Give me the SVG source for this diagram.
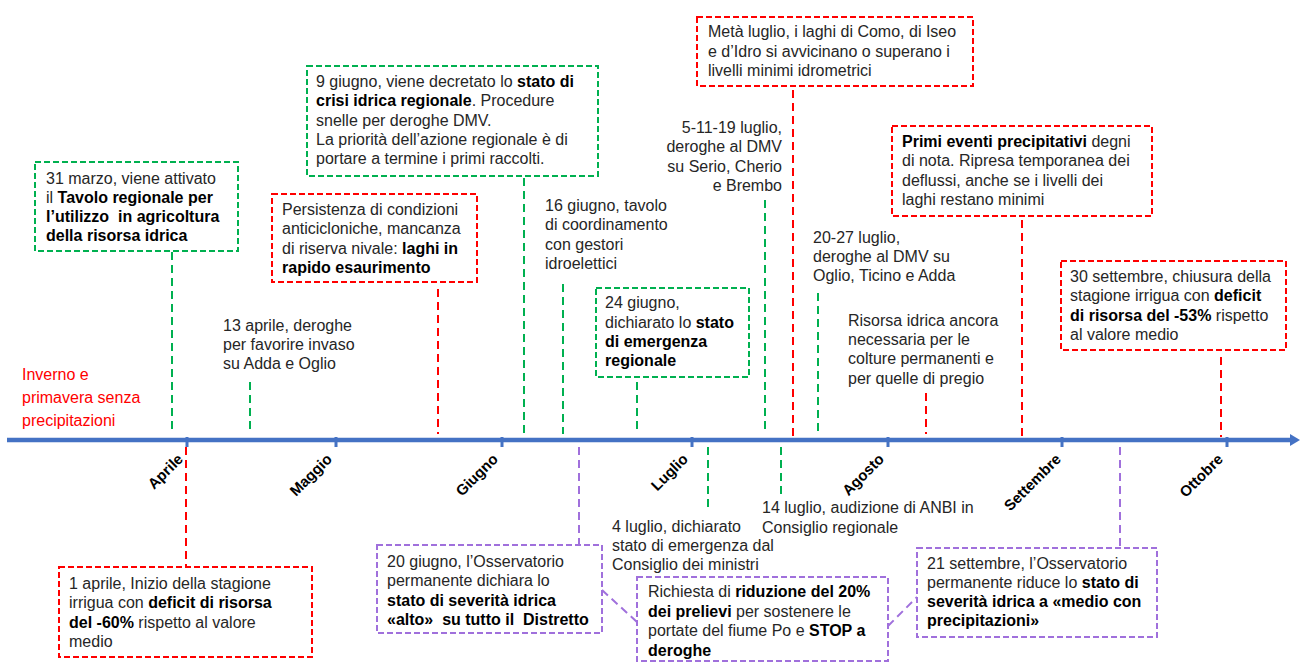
<svg xmlns="http://www.w3.org/2000/svg" width="1300" height="663" viewBox="0 0 1300 663">
<style>
text { font-family: "Liberation Sans", Arial, sans-serif; font-size: 16px; fill: #262626; }
.b { font-weight: bold; fill: #000; }
.red { fill: #FF0000; }
.box { fill: #fff; stroke-width: 2; stroke-dasharray: 6 3; }
.conn { fill: none; stroke-width: 2; stroke-dasharray: 8 5; }
.g { stroke: #00B050; }
.r { stroke: #FF0000; }
.p { stroke: #A070DC; }
.month { font-size: 15px; font-weight: bold; fill: #000; }
.tick { fill: #4472C4; }
</style>
<rect width="1300" height="663" fill="#fff"/>

<g id="axis">
  <line x1="7" y1="440" x2="1292" y2="440" stroke="#4472C4" stroke-width="4.5"/>
  <polygon points="1290,434 1300,440 1290,446" fill="#4472C4"/>
  <rect class="tick" x="185.5" y="437" width="3" height="10"/>
  <rect class="tick" x="334.5" y="437" width="3" height="10"/>
  <rect class="tick" x="500.5" y="437" width="3" height="10"/>
  <rect class="tick" x="690.5" y="437" width="3" height="10"/>
  <rect class="tick" x="886.5" y="437" width="3" height="10"/>
  <rect class="tick" x="1060.5" y="437" width="3" height="10"/>
  <rect class="tick" x="1225.5" y="437" width="3" height="10"/>
  <text class="month" x="184" y="460" text-anchor="end" transform="rotate(-45 184 460)">Aprile</text>
  <text class="month" x="333" y="460" text-anchor="end" transform="rotate(-45 333 460)">Maggio</text>
  <text class="month" x="499" y="460" text-anchor="end" transform="rotate(-45 499 460)">Giugno</text>
  <text class="month" x="689" y="460" text-anchor="end" transform="rotate(-45 689 460)">Luglio</text>
  <text class="month" x="885" y="460" text-anchor="end" transform="rotate(-45 885 460)">Agosto</text>
  <text class="month" x="1062" y="460" text-anchor="end" transform="rotate(-45 1062 460)">Settembre</text>
  <text class="month" x="1224" y="460" text-anchor="end" transform="rotate(-45 1224 460)">Ottobre</text>
</g>

<g id="connectors">
  <line class="conn g" x1="172" y1="252" x2="172" y2="434"/>
  <line class="conn g" x1="250" y1="382" x2="250" y2="434"/>
  <line class="conn r" x1="438" y1="289" x2="438" y2="434"/>
  <line class="conn g" x1="524" y1="178" x2="524" y2="434"/>
  <line class="conn g" x1="563" y1="284" x2="563" y2="434"/>
  <line class="conn g" x1="637" y1="382" x2="637" y2="434"/>
  <line class="conn g" x1="765" y1="200" x2="765" y2="434"/>
  <line class="conn r" x1="793" y1="90" x2="793" y2="437"/>
  <line class="conn g" x1="818" y1="293" x2="818" y2="434"/>
  <line class="conn r" x1="926" y1="393" x2="926" y2="434"/>
  <line class="conn r" x1="1022" y1="220" x2="1022" y2="437"/>
  <line class="conn r" x1="1221" y1="357" x2="1221" y2="437"/>
  <line class="conn r" x1="186" y1="447" x2="186" y2="566"/>
  <line class="conn p" x1="579" y1="447" x2="579" y2="544"/>
  <line class="conn g" x1="708" y1="447" x2="708" y2="508"/>
  <line class="conn g" x1="781" y1="447" x2="781" y2="494"/>
  <line class="conn p" x1="1120" y1="447" x2="1120" y2="547"/>
  <line class="conn p" x1="602" y1="590" x2="637" y2="622"/>
  <line class="conn p" x1="888" y1="626" x2="917" y2="597"/>
</g>

<g id="inverno">
  <text class="red" x="22"><tspan x="22" y="380">Inverno e</tspan><tspan x="22" y="403">primavera senza</tspan><tspan x="22" y="426">precipitazioni</tspan></text>
</g>

<g id="n31marzo">
  <rect class="box g" x="35" y="162" width="203" height="89"/>
  <text><tspan x="46" y="184">31 marzo, viene attivato</tspan><tspan x="46" y="203">il <tspan class="b">Tavolo regionale per</tspan></tspan><tspan class="b" x="46" y="222">l’utilizzo&#160; in agricoltura</tspan><tspan class="b" x="46" y="241">della risorsa idrica</tspan></text>
</g>

<g id="n13aprile">
  <text><tspan x="223" y="331">13 aprile, deroghe</tspan><tspan x="223" y="350">per favorire invaso</tspan><tspan x="223" y="369">su Adda e Oglio</tspan></text>
</g>

<g id="persistenza">
  <rect class="box r" x="272" y="194" width="205" height="88"/>
  <text><tspan x="282" y="215">Persistenza di condizioni</tspan><tspan x="282" y="234">anticicloniche, mancanza</tspan><tspan x="282" y="254">di riserva nivale: <tspan class="b">laghi in</tspan></tspan><tspan class="b" x="282" y="273">rapido esaurimento</tspan></text>
</g>

<g id="n9giugno">
  <rect class="box g" x="307" y="66" width="291" height="110"/>
  <text><tspan x="316" y="87">9 giugno, viene decretato lo <tspan class="b">stato di</tspan></tspan><tspan x="316" y="106"><tspan class="b">crisi idrica regionale</tspan>. Procedure</tspan><tspan x="316" y="126">snelle per deroghe DMV.</tspan><tspan x="316" y="145">La priorità dell’azione regionale è di</tspan><tspan x="316" y="164">portare a termine i primi raccolti.</tspan></text>
</g>

<g id="n16giugno">
  <text><tspan x="545" y="210.5">16 giugno, tavolo</tspan><tspan x="545" y="230">di coordinamento</tspan><tspan x="545" y="249.5">con gestori</tspan><tspan x="545" y="269">idroelettici</tspan></text>
</g>

<g id="n24giugno">
  <rect class="box g" x="596" y="288" width="153" height="89"/>
  <text><tspan x="605" y="308">24 giugno,</tspan><tspan x="605" y="327.5">dichiarato lo <tspan class="b">stato</tspan></tspan><tspan class="b" x="605" y="347">di emergenza</tspan><tspan class="b" x="605" y="366">regionale</tspan></text>
</g>

<g id="n5luglio">
  <text text-anchor="end"><tspan x="782" y="133">5-11-19 luglio,</tspan><tspan x="782" y="152">deroghe al DMV</tspan><tspan x="782" y="172">su Serio, Cherio</tspan><tspan x="782" y="191">e Brembo</tspan></text>
</g>

<g id="metaluglio">
  <rect class="box r" x="697" y="17" width="276" height="69"/>
  <text><tspan x="708" y="37">Metà luglio, i laghi di Como, di Iseo</tspan><tspan x="708" y="56.5">e d’Idro si avvicinano o superano i</tspan><tspan x="708" y="76">livelli minimi idrometrici</tspan></text>
</g>

<g id="n20luglio">
  <text><tspan x="813" y="243">20-27 luglio,</tspan><tspan x="813" y="262">deroghe al DMV su</tspan><tspan x="813" y="281">Oglio, Ticino e Adda</tspan></text>
</g>

<g id="risorsa">
  <text><tspan x="848" y="325.5">Risorsa idrica ancora</tspan><tspan x="848" y="345">necessaria per le</tspan><tspan x="848" y="364">colture permanenti e</tspan><tspan x="848" y="384">per quelle di pregio</tspan></text>
</g>

<g id="primieventi">
  <rect class="box r" x="892" y="126" width="260" height="90"/>
  <text><tspan x="902" y="147"><tspan class="b">Primi eventi precipitativi</tspan> degni</tspan><tspan x="902" y="166">di nota. Ripresa temporanea dei</tspan><tspan x="902" y="186">deflussi, anche se i livelli dei</tspan><tspan x="902" y="205">laghi restano minimi</tspan></text>
</g>

<g id="n30settembre">
  <rect class="box r" x="1061" y="261" width="225" height="89"/>
  <text><tspan x="1070" y="282">30 settembre, chiusura della</tspan><tspan x="1070" y="301">stagione irrigua con <tspan class="b">deficit</tspan></tspan><tspan x="1070" y="321"><tspan class="b">di risorsa del -53%</tspan> rispetto</tspan><tspan x="1070" y="340">al valore medio</tspan></text>
</g>

<g id="n1aprile">
  <rect class="box r" x="59" y="567" width="253" height="90"/>
  <text><tspan x="69" y="589">1 aprile, Inizio della stagione</tspan><tspan x="69" y="608">irrigua con <tspan class="b">deficit di risorsa</tspan></tspan><tspan x="69" y="628"><tspan class="b">del -60%</tspan> rispetto al valore</tspan><tspan x="69" y="647">medio</tspan></text>
</g>

<g id="n20giugno">
  <rect class="box p" x="377" y="545" width="225" height="88"/>
  <text><tspan x="387" y="567">20 giugno, l’Osservatorio</tspan><tspan x="387" y="586">permanente dichiara lo</tspan><tspan class="b" x="387" y="606">stato di severità idrica</tspan><tspan class="b" x="387" y="625">«alto»&#160; su tutto il&#160; Distretto</tspan></text>
</g>

<g id="n4luglio">
  <text><tspan x="612" y="531.5">4 luglio, dichiarato</tspan><tspan x="612" y="551">stato di emergenza dal</tspan><tspan x="612" y="570">Consiglio dei ministri</tspan></text>
</g>

<g id="n14luglio">
  <text><tspan x="762" y="513">14 luglio, audizione di ANBI in</tspan><tspan x="762" y="532.5">Consiglio regionale</tspan></text>
</g>

<g id="richiesta">
  <rect class="box p" x="637" y="577" width="251" height="84"/>
  <text><tspan x="648" y="597">Richiesta di <tspan class="b">riduzione del 20%</tspan></tspan><tspan x="648" y="617"><tspan class="b">dei prelievi</tspan> per sostenere le</tspan><tspan x="648" y="636">portate del fiume Po e <tspan class="b">STOP a</tspan></tspan><tspan class="b" x="648" y="656">deroghe</tspan></text>
</g>

<g id="n21settembre">
  <rect class="box p" x="917" y="548" width="240" height="89"/>
  <text><tspan x="927" y="569">21 settembre, l’Osservatorio</tspan><tspan x="927" y="588">permanente riduce lo <tspan class="b">stato di</tspan></tspan><tspan class="b" x="927" y="607">severità idrica a «medio con</tspan><tspan class="b" x="927" y="626">precipitazioni»</tspan></text>
</g>
</svg>
